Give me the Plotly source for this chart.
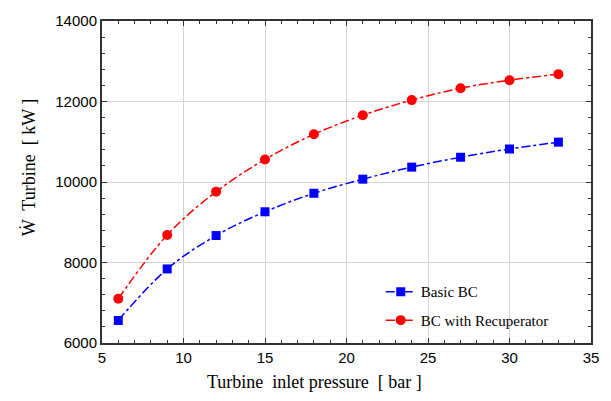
import plotly.graph_objects as go

pressure = [6, 9, 12, 15, 18, 21, 24, 27, 30, 33]
basic_bc = [6560, 7840, 8670, 9260, 9720, 10070, 10370, 10615, 10820, 10990]
bc_recup = [7100, 8685, 9760, 10560, 11185, 11660, 12035, 12330, 12530, 12680]

fig = go.Figure()
fig.add_trace(go.Scatter(
    x=pressure, y=basic_bc, name="Basic BC", mode="lines+markers", legendgroup="a",
    line=dict(color="#0000ff", width=1.5, dash="dashdot", shape="spline"),
    marker=dict(symbol="square", size=9, color="#0000ff"),
))
fig.add_trace(go.Scatter(
    x=pressure, y=bc_recup, name="BC with Recuperator", mode="lines+markers", legendgroup="b",
    line=dict(color="#ff0000", width=1.5, dash="dashdot", shape="spline"),
    marker=dict(symbol="circle", size=10, color="#ff0000"),
))

axis_common = dict(
    showline=True, linecolor="#333333", linewidth=2, mirror="ticks",
    ticks="inside", ticklen=5, tickcolor="#333333", tickwidth=1,
    showgrid=True, gridcolor="#d4d4d4", gridwidth=1, zeroline=False,
    tickfont=dict(family="Liberation Sans, Arial", size=15, color="#000"),
    tickformat="d",
)

fig.update_xaxes(
    range=[5, 35], dtick=5,
    minor=dict(dtick=1, ticks="inside", ticklen=3, tickcolor="#333333", showgrid=False),
    **axis_common,
)
fig.update_yaxes(
    range=[6000, 14000], dtick=2000,
    minor=dict(dtick=400, ticks="inside", ticklen=3, tickcolor="#333333", showgrid=False),
    **axis_common,
)

title_font = dict(family="Liberation Serif, Times New Roman", size=18, color="#000")
fig.add_annotation(text="Turbine  inlet pressure  [ bar ]", xref="paper", yref="paper",
                   x=(316 - 102) / 493, y=-(383 - 343) / 327, showarrow=False,
                   xanchor="center", yanchor="middle", font=title_font)
fig.add_annotation(text="Ẇ  Turbine  [ kW ]", xref="paper", yref="paper",
                   x=-(102 - 28) / 493, y=(343 - 165) / 327, showarrow=False, textangle=-90,
                   xanchor="center", yanchor="middle", font=title_font)

fig.update_layout(
    width=611, height=401,
    margin=dict(l=102, r=16, t=16, b=58),
    paper_bgcolor="white", plot_bgcolor="white",
    showlegend=True,
    legend=dict(x=0.57, y=0.21, xanchor="left", yanchor="top",
                bgcolor="rgba(0,0,0,0)", traceorder="grouped",
                font=dict(family="Liberation Serif, Times New Roman", size=15, color="#000"),
                tracegroupgap=6),
)

fig.write_html("out.html")
